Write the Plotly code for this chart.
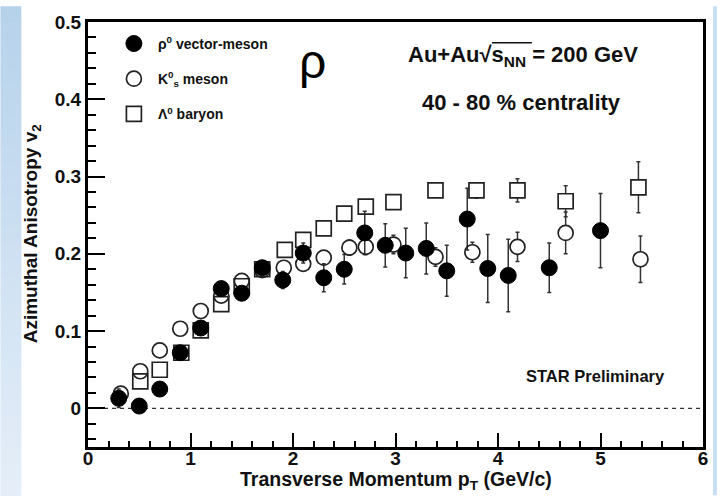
import plotly.graph_objects as go

# rho0 vector meson v2 vs pT
rho_pt = [0.3, 0.5, 0.7, 0.9, 1.1, 1.3, 1.5, 1.7, 1.9, 2.1, 2.3, 2.5, 2.7, 2.9, 3.1, 3.3, 3.5, 3.7, 3.9, 4.1, 4.5, 5.0]
rho_v2 = [0.013, 0.003, 0.025, 0.072, 0.104, 0.155, 0.149, 0.182, 0.166, 0.201, 0.169, 0.180, 0.227, 0.211, 0.201, 0.207, 0.178, 0.245, 0.181, 0.172, 0.182, 0.230]
rho_err = [0.012, 0.004, 0.004, 0.004, 0.005, 0.006, 0.006, 0.007, 0.011, 0.013, 0.018, 0.019, 0.028, 0.028, 0.032, 0.033, 0.033, 0.040, 0.044, 0.047, 0.032, 0.048]

# K0s meson
k_pt = [0.32, 0.51, 0.70, 0.90, 1.10, 1.30, 1.50, 1.70, 1.91, 2.10, 2.30, 2.55, 2.71, 2.98, 3.39, 3.75, 4.19, 4.66, 5.39]
k_v2 = [0.019, 0.048, 0.075, 0.103, 0.126, 0.146, 0.165, 0.179, 0.182, 0.187, 0.195, 0.208, 0.209, 0.212, 0.196, 0.202, 0.209, 0.227, 0.193]
k_err = [0.005, 0.004, 0.004, 0.004, 0.004, 0.004, 0.005, 0.005, 0.006, 0.008, 0.009, 0.010, 0.010, 0.012, 0.012, 0.013, 0.019, 0.027, 0.030]

# Lambda baryon
lam_pt = [0.51, 0.70, 0.91, 1.10, 1.30, 1.50, 1.70, 1.92, 2.10, 2.30, 2.50, 2.71, 2.98, 3.39, 3.79, 4.19, 4.66, 5.37]
lam_v2 = [0.035, 0.050, 0.072, 0.101, 0.135, 0.158, 0.180, 0.205, 0.218, 0.233, 0.252, 0.261, 0.267, 0.282, 0.282, 0.282, 0.268, 0.286]
lam_err = [0.003, 0.003, 0.003, 0.003, 0.003, 0.004, 0.004, 0.004, 0.005, 0.005, 0.006, 0.006, 0.007, 0.008, 0.010, 0.015, 0.020, 0.033]

x_ticks = [0, 1, 2, 3, 4, 5, 6]
y_ticks = [0, 0.1, 0.2, 0.3, 0.4, 0.5]
y_tick_text = ["0", "0.1", "0.2", "0.3", "0.4", "0.5"]

FONT = "Liberation Sans, Arial, sans-serif"
INK = "#111111"
BAR = "#333333"

# page geometry (pixels)
WIDTH, HEIGHT = 720, 496
ML, MR, MT, MB = 88, 14, 16, 49
PW = WIDTH - ML - MR
PH = HEIGHT - MT - MB


def px_x(p):
    return (p - ML) / PW


def px_y(p):
    return (HEIGHT - MB - p) / PH


def err_trace(x, y, e):
    # error bars only; the marker is invisible
    return go.Scatter(
        x=x, y=y, mode="markers",
        marker=dict(size=2, color="rgba(0,0,0,0)"),
        error_y=dict(type="data", array=e, visible=True, color=BAR, thickness=1.5, width=2),
        showlegend=False, hoverinfo="skip",
    )


def fill_trace(x, y, symbol):
    # white interior so error bars stop at the marker edge
    return go.Scatter(
        x=x, y=y, mode="markers",
        marker=dict(symbol=symbol, size=15, color="white", line=dict(width=0)),
        showlegend=False, hoverinfo="skip",
    )


def label(text, x, y, size, weight="bold", angle=0):
    return dict(
        text=text, x=px_x(x), y=px_y(y), xref="paper", yref="paper",
        xanchor="center", yanchor="middle", showarrow=False, textangle=angle,
        font=dict(family=FONT, size=size, color=INK, weight=weight),
    )


fig = go.Figure()

fig.add_trace(err_trace(lam_pt, lam_v2, lam_err))
fig.add_trace(err_trace(k_pt, k_v2, k_err))
fig.add_trace(fill_trace(lam_pt, lam_v2, "square"))
fig.add_trace(fill_trace(k_pt, k_v2, "circle"))
fig.add_trace(err_trace(rho_pt, rho_v2, rho_err))

fig.add_trace(go.Scatter(
    x=lam_pt, y=lam_v2, mode="markers", name="\u039b<sup>0</sup> baryon",
    marker=dict(symbol="square-open", size=15, color="#222222", line=dict(width=1.7)),
    legendgroup="lam", legendrank=3,
))
fig.add_trace(go.Scatter(
    x=k_pt, y=k_v2, mode="markers", name="K<sup>0</sup><sub>s</sub> meson",
    marker=dict(symbol="circle-open", size=15, color="#222222", line=dict(width=1.7)),
    legendgroup="k", legendrank=2,
))
fig.add_trace(go.Scatter(
    x=rho_pt, y=rho_v2, mode="markers", name="\u03c1<sup>0</sup> vector-meson",
    marker=dict(symbol="circle", size=16, color="black", line=dict(width=1, color="black")),
    legendgroup="rho", legendrank=1,
))

shapes = []
# light blue gradient strip on the left edge of the page
n_bands = 31
top_c = (182, 210, 235)
bot_c = (229, 238, 248)
for i in range(n_bands):
    t = i / (n_bands - 1)
    c = tuple(round(a + (b - a) * t) for a, b in zip(top_c, bot_c))
    y0 = HEIGHT * i / n_bands
    y1 = HEIGHT * (i + 1) / n_bands + 0.6
    shapes.append(dict(
        type="rect", xref="paper", yref="paper", layer="below",
        x0=px_x(0), x1=px_x(21), y0=px_y(y1), y1=px_y(y0),
        fillcolor="rgb(%d,%d,%d)" % c, line=dict(width=0),
    ))
# thin strip on the right edge
shapes.append(dict(
    type="rect", xref="paper", yref="paper", layer="below",
    x0=px_x(716), x1=px_x(720), y0=px_y(496), y1=px_y(0),
    fillcolor="rgb(200,222,242)", line=dict(width=0),
))
# dashed zero line
shapes.append(dict(
    type="line", xref="x", yref="y", x0=0, x1=6, y0=0, y1=0,
    line=dict(color=BAR, width=1.2, dash="4px,4px"), layer="below",
))
# overline of the square root
shapes.append(dict(
    type="line", xref="paper", yref="paper",
    x0=px_x(494), x1=px_x(534), y0=px_y(37), y1=px_y(37),
    line=dict(color=INK, width=1.5),
))

annotations = [
    dict(text="\u03c1", x=px_x(314), y=px_y(56), xref="paper", yref="paper",
         xanchor="center", yanchor="middle", showarrow=False,
         font=dict(family=FONT, size=48, color="black")),
    label("Au+Au\u221as<sub>NN</sub> = 200 GeV", 525, 50, 22),
    label("40 - 80 % centrality", 524, 98, 22),
    label("STAR Preliminary", 598, 375, 16.5),
    label("Azimuthal Anisotropy v<sub>2</sub>", 32, 231, 19, angle=-90),
    label("Transverse Momentum p<sub>T</sub> (GeV/c)", 397, 481, 19.5),
]

fig.update_layout(
    width=WIDTH, height=HEIGHT,
    margin=dict(l=ML, r=MR, t=MT, b=MB),
    paper_bgcolor="white", plot_bgcolor="white",
    font=dict(family=FONT, color=INK),
    shapes=shapes, annotations=annotations,
    legend=dict(
        x=px_x(110), y=px_y(22), xanchor="left", yanchor="top",
        bgcolor="rgba(0,0,0,0)", borderwidth=0,
        font=dict(family=FONT, size=14, color=INK, weight="bold"),
        tracegroupgap=14, itemwidth=38,
    ),
    xaxis=dict(
        range=[0, 6], tickvals=x_ticks, ticktext=[str(v) for v in x_ticks],
        showgrid=False, zeroline=False,
        showline=True, linewidth=3, linecolor="black", mirror=True,
        ticks="inside", ticklen=14, tickwidth=2, tickcolor="black",
        minor=dict(dtick=0.2, ticks="inside", ticklen=6, tickwidth=1.5, tickcolor="black", showgrid=False),
        tickfont=dict(family=FONT, size=19, color=INK, weight="bold"),
        ticklabelstandoff=-8,
    ),
    yaxis=dict(
        range=[-0.05, 0.5], tickvals=y_ticks, ticktext=y_tick_text,
        showgrid=False, zeroline=False,
        showline=True, linewidth=3, linecolor="black", mirror=True,
        ticks="inside", ticklen=17, tickwidth=2, tickcolor="black",
        minor=dict(dtick=0.02, tick0=0, ticks="inside", ticklen=8, tickwidth=1.5, tickcolor="black", showgrid=False),
        tickfont=dict(family=FONT, size=19, color=INK, weight="bold"),
    ),
)

fig.write_html("out.html")
